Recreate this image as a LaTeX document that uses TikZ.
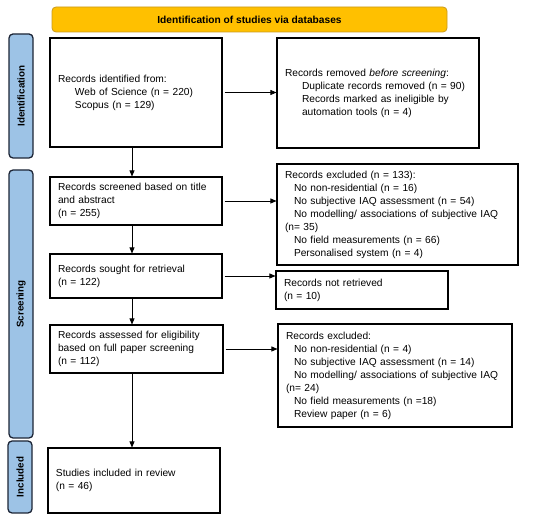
\documentclass[tikz,border=0pt]{standalone}
\usepackage{fontspec}
\setmainfont{Liberation Sans}
\usepackage{xcolor}
\usetikzlibrary{arrows.meta, positioning, calc}

\definecolor{bannerfill}{HTML}{FFC000}
\definecolor{bannerline}{HTML}{C99A1E}
\definecolor{phasefill}{HTML}{9DC3E6}
\definecolor{phaseline}{HTML}{1C2536}
\newcommand{\boxfont}{\fontsize{10.2}{13}\selectfont}
\newcommand{\ind}[1]{\hspace*{#1pt}}

\begin{document}
\begin{tikzpicture}[
    x=1pt, y=-1pt,
    recbox/.style 2 args={draw, line width=1.1pt, align=left, font=\boxfont,
        inner xsep=8pt, inner ysep=2pt, text width=#1, minimum height=#2},
    phase/.style 2 args={draw=phaseline, fill=phasefill, line width=1.3pt,
        rounded corners=4pt, rotate=90, font=\bfseries\fontsize{9.8}{11}\selectfont,
        minimum width=#1, minimum height=#2, inner sep=0pt},
    flow/.style={line width=0.7pt, -{Triangle[length=6pt, width=5pt]}}
]
    \useasboundingbox (0,0) rectangle (550,521);

    % banner and phase bars
    \node[draw=bannerline, fill=bannerfill, line width=0.8pt, rounded corners=4pt,
        minimum width=395pt, minimum height=25pt, font=\bfseries\fontsize{10.2}{12}\selectfont]
        (banner) at (249.5,19.5) {Identification of studies via databases};
    \node[phase={124pt}{24pt}] (pident) at (21,96) {Identification};
    \node[phase={268pt}{24pt}] (pscreen) at (21,304) {Screening};
    \node[phase={72pt}{24pt}] (pincl) at (20,477) {Included};

    % left column
    \node[recbox={156pt}{109pt}] (ident) at (136,92.5)
        {Records identified from:\\\ind{17}Web of Science (n = 220)\\\ind{17}Scopus (n = 129)};
    \node[recbox={156pt}{48pt}] (screened) at (136,201)
        {Records screened based on title\\and abstract\\(n = 255)};
    \node[recbox={156pt}{44pt}] (sought) at (136,276)
        {Records sought for retrieval\\(n = 122)};
    \node[recbox={157pt}{48pt}] (assessed) at (136.5,349)
        {Records assessed for eligibility\\based on full paper screening\\(n = 112)};
    \node[recbox={156pt}{65pt}] (incl) at (134,480.5)
        {Studies included in review\\(n = 46)};

    % right column
    \node[recbox={186pt}{110pt}] (removed) at (378,93)
        {Records removed \textit{before screening}:\\\ind{17}Duplicate records removed (n = 90)\\\ind{17}Records marked as ineligible by\\\ind{17}automation tools (n = 4)};
    \node[recbox={225pt}{101pt}] (excla) at (397.5,214.5)
        {Records excluded (n = 133):\\\ind{9}No non-residential (n = 16)\\\ind{9}No subjective IAQ assessment (n = 54)\\\ind{9}No modelling/ associations of subjective IAQ\\(n= 35)\\\ind{9}No field measurements (n = 66)\\\ind{9}Personalised system (n = 4)};
    \node[recbox={156pt}{38pt}] (notret) at (362,290)
        {Records not retrieved\\(n = 10)};
    \node[recbox={218pt}{103pt}] (exclb) at (395,375.5)
        {Records excluded:\\\ind{8}No non-residential (n = 4)\\\ind{8}No subjective IAQ assessment (n = 14)\\\ind{8}No modelling/ associations of subjective IAQ\\(n= 24)\\\ind{8}No field measurements (n =18)\\\ind{8}Review paper (n = 6)};

    % connectors
    \coordinate (col) at (132,0);
    \draw[flow] (ident.south -| col) -- (screened.north -| col);
    \draw[flow] (screened.south -| col) -- (sought.north -| col);
    \draw[flow] (sought.south -| col) -- (assessed.north -| col);
    \draw[flow] (assessed.south -| col) -- (incl.north -| col);
    \draw[flow, shorten <=2pt] (ident.east) -- (ident.east -| removed.west);
    \draw[flow, shorten <=2pt] (screened.east) -- (screened.east -| excla.west);
    \draw[flow, shorten <=2pt] (sought.east) -- (sought.east -| notret.west);
    \draw[flow, shorten <=2pt] (assessed.east) -- (assessed.east -| exclb.west);
\end{tikzpicture}
\end{document}
